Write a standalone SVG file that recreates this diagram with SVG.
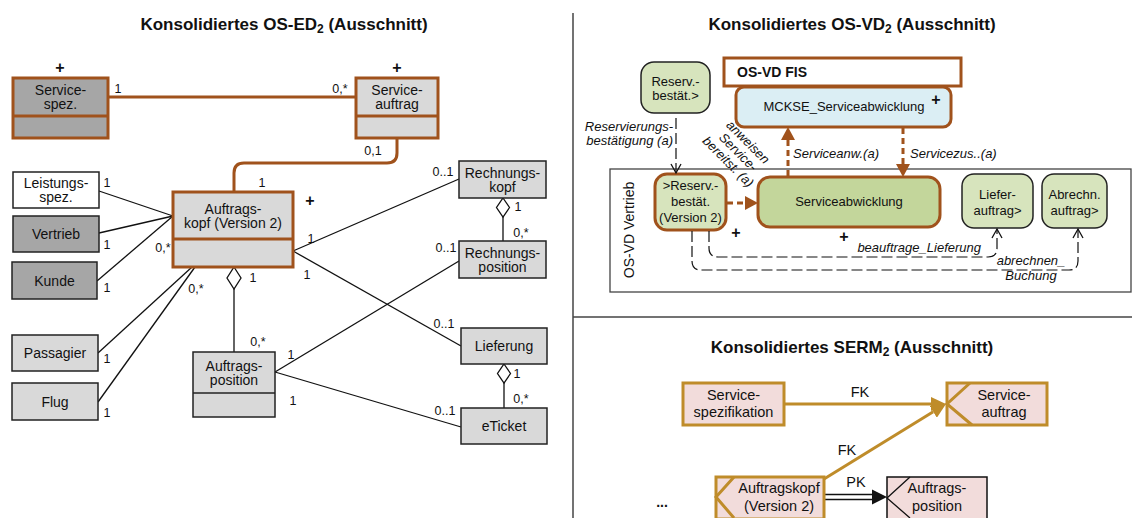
<svg xmlns="http://www.w3.org/2000/svg" width="1132" height="518" viewBox="0 0 1132 518">
<style>
text{font-family:"Liberation Sans",Arial,sans-serif;fill:#111}
.t{font-size:14px;text-anchor:middle}
.t13{font-size:13px;text-anchor:middle}
.s{font-size:14.5px;text-anchor:middle}
.l{font-size:12.5px;text-anchor:middle}
.it{font-size:13px;font-style:italic}
.ti{font-size:17px;font-weight:bold;text-anchor:middle}
.p{font-size:16px;font-weight:bold;text-anchor:middle}
.bx{stroke:#222;stroke-width:1.5}
.bb{stroke:#a0521c;stroke-width:3}
.sg{stroke:#bf8c2a;stroke-width:3;fill:#f2dcdb}
.e{stroke:#111;stroke-width:1.3;fill:none}
.eb{stroke:#a0521c;stroke-width:3;fill:none}
.db{stroke:#a0521c;stroke-width:3;fill:none;stroke-dasharray:6 4}
.dk{stroke:#111;stroke-width:1.2;fill:none;stroke-dasharray:11 4}
.fr{stroke:#444;stroke-width:1.5;fill:none}
.g1{fill:#d9d9d9}.g2{fill:#a6a6a6}
</style>
<defs>
<marker id="ab" markerUnits="userSpaceOnUse" markerWidth="14" markerHeight="14" refX="0" refY="7" orient="auto"><path d="M0,0 L13,7 L0,14 z" fill="#a0521c"/></marker>
<marker id="ag" markerUnits="userSpaceOnUse" markerWidth="16" markerHeight="14" refX="0" refY="7" orient="auto"><path d="M0,0 L15,7 L0,14 z" fill="#bf8c2a"/></marker>
<marker id="av" markerUnits="userSpaceOnUse" markerWidth="12" markerHeight="12" refX="10" refY="6" orient="auto"><path d="M1,1 L10,6 L1,11" fill="none" stroke="#111" stroke-width="1.3"/></marker>
</defs>
<rect width="1132" height="518" fill="#fff"/>

<!-- dividers -->
<line x1="573" y1="13" x2="573" y2="518" class="fr"/>
<line x1="573" y1="317" x2="1132" y2="317" class="fr"/>

<!-- titles -->
<text class="ti" x="284" y="30">Konsolidiertes OS-ED<tspan font-size="12" dy="3">2</tspan><tspan dy="-3"> (Ausschnitt)</tspan></text>
<text class="ti" x="852" y="30">Konsolidiertes OS-VD<tspan font-size="12" dy="3">2</tspan><tspan dy="-3"> (Ausschnitt)</tspan></text>
<text class="ti" x="852" y="353">Konsolidiertes SERM<tspan font-size="12" dy="3">2</tspan><tspan dy="-3"> (Ausschnitt)</tspan></text>

<!-- ============ LEFT: OS-ED ============ -->
<g id="connectors">
<line class="eb" x1="108" y1="97" x2="356" y2="97"/>
<path class="eb" d="M397,138 V153 Q397,163 387,163 H244 Q234,163 234,173 V192"/>
<line class="e" x1="99" y1="191" x2="173" y2="216"/>
<line class="e" x1="99" y1="233" x2="173" y2="216"/>
<line class="e" x1="97" y1="281" x2="173" y2="216"/>
<line class="e" x1="98" y1="353" x2="192" y2="267"/>
<line class="e" x1="98" y1="402" x2="195" y2="267"/>
<line class="e" x1="293" y1="251" x2="459" y2="179"/>
<line class="e" x1="293" y1="251" x2="461" y2="346"/>
<line class="e" x1="275" y1="372" x2="459" y2="261"/>
<line class="e" x1="275" y1="372" x2="461" y2="427"/>
<polygon class="e" fill="#fff" points="234,267 241,278 234,289 227,278"/>
<line class="e" x1="234" y1="289" x2="234" y2="352"/>
<polygon class="e" fill="#fff" points="503,198 509.5,207.5 503,217 496.5,207.5"/>
<line class="e" x1="503" y1="217" x2="503" y2="241"/>
<polygon class="e" fill="#fff" points="504,364 510.5,373.5 504,383 497.5,373.5"/>
<line class="e" x1="504" y1="383" x2="504" y2="408"/>
<text class="l" x="118" y="92.5">1</text>
<text class="l" x="340" y="92.5">0,*</text>
<text class="l" x="373" y="154.5">0,1</text>
<text class="l" x="262" y="186.5">1</text>
<text class="l" x="107" y="186.5">1</text>
<text class="l" x="107" y="248.5">1</text>
<text class="l" x="107" y="291.5">1</text>
<text class="l" x="107" y="362.5">1</text>
<text class="l" x="107" y="416.5">1</text>
<text class="l" x="163" y="251.5">0,*</text>
<text class="l" x="196" y="292.5">0,*</text>
<text class="l" x="253" y="281.5">1</text>
<text class="l" x="258" y="345.5">0,*</text>
<text class="l" x="311" y="242.5">1</text>
<text class="l" x="307" y="278.5">1</text>
<text class="l" x="443" y="175.5">0..1</text>
<text class="l" x="446" y="251.5">0..1</text>
<text class="l" x="518" y="210.5">1</text>
<text class="l" x="521" y="236.5">0,*</text>
<text class="l" x="444" y="327.5">0..1</text>
<text class="l" x="517" y="377.5">1</text>
<text class="l" x="521" y="402.5">0,*</text>
<text class="l" x="445" y="414.5">0..1</text>
<text class="l" x="291" y="358.5">1</text>
<text class="l" x="293" y="404.5">1</text>
</g>

<g id="n-servicespez">
<rect class="bb g2" x="13" y="78" width="95" height="60"/>
<line class="bb" x1="13" y1="116" x2="108" y2="116"/>
<text class="t" x="60.5" y="95">Service-</text>
<text class="t" x="60.5" y="109">spez.</text>
<text class="p" x="60" y="72.5">+</text>
</g>
<g id="n-serviceauftrag">
<rect class="bb g1" x="356" y="78" width="82" height="60"/>
<line class="bb" x1="356" y1="116" x2="438" y2="116"/>
<text class="t" x="397" y="95">Service-</text>
<text class="t" x="397" y="109">auftrag</text>
<text class="p" x="397" y="72.5">+</text>
</g>
<g id="n-auftragskopf">
<rect class="bb g1" x="173" y="192" width="120" height="75"/>
<line class="bb" x1="173" y1="239" x2="293" y2="239"/>
<text class="t" x="233" y="213.5">Auftrags-</text>
<text class="t" x="233" y="227.5">kopf (Version 2)</text>
<text class="p" x="310" y="205.5">+</text>
</g>
<g id="n-leistungsspez">
<rect class="bx" fill="#fff" x="13" y="172" width="86" height="36"/>
<text class="t" x="56" y="188">Leistungs-</text>
<text class="t" x="56" y="202">spez.</text>
</g>
<g id="n-vertrieb">
<rect class="bx g2" x="13" y="216" width="86" height="36"/>
<text class="t" x="56" y="239">Vertrieb</text>
</g>
<g id="n-kunde">
<rect class="bx g2" x="12" y="262" width="85" height="37"/>
<text class="t" x="54.5" y="285.5">Kunde</text>
</g>
<g id="n-passagier">
<rect class="bx g1" x="12" y="335" width="86" height="36"/>
<text class="t" x="55" y="358">Passagier</text>
</g>
<g id="n-flug">
<rect class="bx g1" x="12" y="383" width="86" height="37"/>
<text class="t" x="55" y="406.5">Flug</text>
</g>
<g id="n-auftragsposition">
<rect class="bx g1" x="193" y="352" width="82" height="65"/>
<line class="bx" x1="193" y1="393" x2="275" y2="393"/>
<text class="t" x="234" y="370.5">Auftrags-</text>
<text class="t" x="234" y="384.5">position</text>
</g>
<g id="n-rechnungskopf">
<rect class="bx g1" x="459" y="161" width="87" height="37"/>
<text class="t" x="502.5" y="177.5">Rechnungs-</text>
<text class="t" x="502.5" y="191.5">kopf</text>
</g>
<g id="n-rechnungsposition">
<rect class="bx g1" x="459" y="241" width="87" height="37"/>
<text class="t" x="502.5" y="257.5">Rechnungs-</text>
<text class="t" x="502.5" y="271.5">position</text>
</g>
<g id="n-lieferung">
<rect class="bx g1" x="461" y="328" width="86" height="36"/>
<text class="t" x="504" y="351">Lieferung</text>
</g>
<g id="n-eticket">
<rect class="bx g1" x="461" y="408" width="86" height="36"/>
<text class="t" x="504" y="431">eTicket</text>
</g>

<!-- ============ RIGHT TOP: OS-VD ============ -->
<g id="n-vertrieb-frame">
<rect x="610" y="169" width="521" height="123" fill="none" stroke="#444" stroke-width="1.3"/>
<text font-size="14" text-anchor="middle" transform="translate(634,230) rotate(-90)">OS-VD Vertrieb</text>
</g>
<g id="n-osvdfis">
<rect class="bb" fill="#fff" x="724" y="58" width="237" height="28"/>
<text x="737" y="76.5" font-size="14" font-weight="bold">OS-VD FIS</text>
</g>
<g id="n-mckse">
<rect class="bb" fill="#dbeef4" x="736" y="87" width="215" height="40" rx="8"/>
<text class="t13" x="844" y="111">MCKSE_Serviceabwicklung</text>
<text class="p" x="936" y="105">+</text>
</g>
<g id="n-reserv">
<rect fill="#d7e4bd" stroke="#222" stroke-width="1.5" x="641" y="62" width="69" height="51" rx="13"/>
<text class="t13" x="675.5" y="85.5">Reserv.-</text>
<text class="t13" x="675.5" y="100">bestät.&gt;</text>
</g>
<g id="n-reserv2">
<rect class="bb" fill="#d7e4bd" x="655" y="174" width="71" height="56" rx="12"/>
<text class="t13" x="690.5" y="189.5">&gt;Reserv.-</text>
<text class="t13" x="690.5" y="205.5">bestät.</text>
<text class="t13" x="690.5" y="221.5">(Version 2)</text>
<text class="p" x="736" y="237.5">+</text>
</g>
<g id="n-serviceabwicklung">
<rect class="bb" fill="#c3d69b" x="758" y="177" width="182" height="50" rx="12"/>
<text class="t13" x="849" y="206">Serviceabwicklung</text>
<text class="p" x="844" y="241.5">+</text>
</g>
<g id="n-lieferauftrag">
<rect fill="#d7e4bd" stroke="#222" stroke-width="1.5" x="962" y="174" width="71" height="54" rx="12"/>
<text class="t13" x="997.5" y="199">Liefer-</text>
<text class="t13" x="997.5" y="215">auftrag&gt;</text>
</g>
<g id="n-abrechnauftrag">
<rect fill="#d7e4bd" stroke="#222" stroke-width="1.5" x="1042" y="174" width="65" height="54" rx="12"/>
<text class="t13" x="1074.5" y="199">Abrechn.</text>
<text class="t13" x="1074.5" y="215">auftrag&gt;</text>
</g>

<g id="connectors-vd">
<line class="dk" x1="676" y1="118" x2="676" y2="173" marker-end="url(#av)"/>
<text class="it" x="673" y="131" text-anchor="end">Reservierungs-</text>
<text class="it" x="673" y="145" text-anchor="end">bestätigung (a)</text>
<g transform="translate(735,155) rotate(45)">
<text class="it" text-anchor="middle" x="0" y="-14">anweisen</text>
<text class="it" text-anchor="middle" x="0" y="0">Service-</text>
<text class="it" text-anchor="middle" x="0" y="14">bereitst. (a)</text>
</g>
<line class="db" x1="727" y1="203" x2="745" y2="203" marker-end="url(#ab)"/>
<line class="db" x1="788" y1="176" x2="788" y2="140" marker-end="url(#ab)"/>
<line class="db" x1="903" y1="128" x2="903" y2="164" marker-end="url(#ab)"/>
<text class="it" x="793" y="158">Serviceanw.(a)</text>
<text class="it" x="910" y="158">Servicezus..(a)</text>
<path class="dk" d="M709,231 V248 Q709,257 718,257 H988 Q997,257 997,248 V229" marker-end="url(#av)"/>
<path class="dk" d="M692,231 V261 Q692,270 701,270 H1069 Q1078,270 1078,261 V229" marker-end="url(#av)"/>
<text class="it" x="981" y="252" text-anchor="end">beauftrage_Lieferung</text>
<text class="it" x="1031" y="265" text-anchor="middle">abrechnen_</text>
<text class="it" x="1031" y="280" text-anchor="middle">Buchung</text>
</g>

<!-- ============ RIGHT BOTTOM: SERM ============ -->
<g id="connectors-serm">
<line stroke="#bf8c2a" stroke-width="3" x1="784" y1="404" x2="931" y2="404" marker-end="url(#ag)"/>
<line stroke="#bf8c2a" stroke-width="3" x1="824" y1="479" x2="933.2" y2="411.8" marker-end="url(#ag)"/>
<text class="s" x="860" y="397">FK</text>
<text class="s" x="847" y="455">FK</text>
<line stroke="#111" stroke-width="1.3" x1="824" y1="494.5" x2="874" y2="494.5"/>
<line stroke="#111" stroke-width="1.3" x1="824" y1="499.5" x2="874" y2="499.5"/>
<polygon points="872,489.5 887,497 872,504.5" fill="#111"/>
<text class="s" x="856" y="487">PK</text>
</g>
<g id="n-servicespezifikation">
<rect class="sg" x="683" y="383" width="101" height="42"/>
<text class="s" x="733.5" y="400">Service-</text>
<text class="s" x="733.5" y="417">spezifikation</text>
</g>
<g id="n-serviceauftrag-serm">
<rect class="sg" x="947" y="383" width="100" height="42"/>
<polyline points="970,383 947,404 972,425" fill="none" stroke="#bf8c2a" stroke-width="3"/>
<text class="s" x="1004" y="400">Service-</text>
<text class="s" x="1004" y="417">auftrag</text>
</g>
<g id="n-auftragskopf-serm">
<rect class="sg" x="716" y="477" width="108" height="42"/>
<polyline points="734,477 716,497 734,518" fill="none" stroke="#bf8c2a" stroke-width="3"/>
<text class="s" x="779" y="493">Auftragskopf</text>
<text class="s" x="779" y="511">(Version 2)</text>
</g>
<g id="n-auftragsposition-serm">
<rect fill="#f2dcdb" stroke="#111" stroke-width="1.5" x="887" y="477" width="100" height="42"/>
<polyline points="910,477 887,498 910,518" fill="none" stroke="#111" stroke-width="1.3"/>
<text class="s" x="937" y="493">Auftrags-</text>
<text class="s" x="937" y="511">position</text>
</g>
<text x="662" y="507" font-size="14" font-weight="bold" text-anchor="middle">...</text>
</svg>
